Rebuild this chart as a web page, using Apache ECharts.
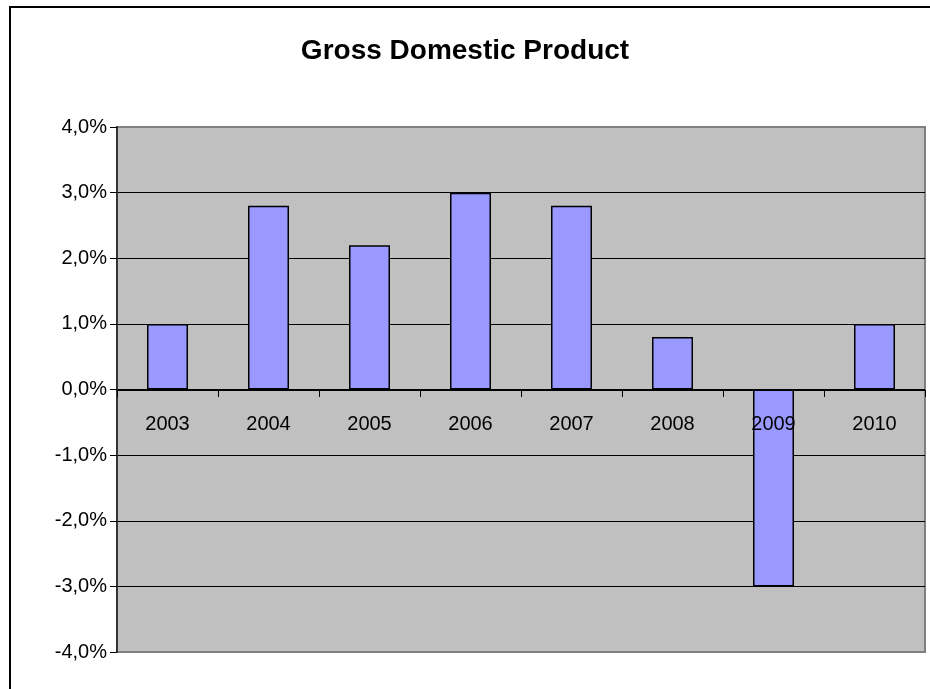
<!DOCTYPE html>
<html>
<head>
<meta charset="utf-8">
<script src="https://cdn.jsdelivr.net/npm/echarts@6/dist/echarts.min.js"></script>
<style>
html,body{margin:0;padding:0;background:#fff;overflow:hidden;}
#frame{position:absolute;left:9px;top:6px;width:1000px;height:800px;border:2px solid #000;box-sizing:border-box;}
#chart{position:absolute;left:0;top:0;width:930px;height:689px;}
</style>
</head>
<body>
<div id="frame"></div>
<div id="chart"></div>
<script>
const titleText = 'Gross Domestic Product';
const categories = ['2003','2004','2005','2006','2007','2008','2009','2010'];
const gdpValues = [1.0, 2.8, 2.2, 3.0, 2.8, 0.8, -3.0, 1.0];

const chart = echarts.init(document.getElementById('chart'), null, {renderer:'canvas'});
chart.setOption({
  backgroundColor: 'transparent',
  animation: false,
  title: {
    text: titleText,
    left: 'center',
    top: 32,
    textStyle: {fontFamily:'Liberation Sans, Arial', fontWeight:'bold', fontSize:28, color:'#000'}
  },
  grid: {
    left: 117, right: 5, top: 127, bottom: 37,
    show: true, backgroundColor: '#c0c0c0', borderColor: '#808080', borderWidth: 2
  },
  xAxis: {
    type: 'category',
    data: categories,
    position: 'bottom',
    offset: -262,
    z: 10,
    boundaryGap: true,
    axisLine: {show:true, onZero:false, lineStyle:{color:'#000', width:1}},
    axisTick: {show:true, alignWithLabel:false, length:7, inside:false, lineStyle:{color:'#000'}},
    axisLabel: {margin:24, fontFamily:'Liberation Sans, Arial', fontSize:20, color:'#000'},
    splitLine: {show:false}
  },
  yAxis: {
    type: 'value',
    min: -4, max: 4, interval: 1,
    axisLine: {show:true, lineStyle:{color:'#333', width:2}},
    axisTick: {show:true, length:7, lineStyle:{color:'#000'}},
    axisLabel: {
      margin: 10, fontFamily:'Liberation Sans, Arial', fontSize:20, color:'#000',
      formatter: v => v.toFixed(1).replace('.', ',') + '%'
    },
    splitLine: {show:true, lineStyle:{color:['#808080','#000','#000','#000','#000','#000','#000','#000','#808080'], width:1}}
  },
  series: [{
    type: 'bar',
    data: gdpValues,
    barWidth: 41,
    z: 3,
    itemStyle: {color:'#9999ff', borderColor:'#000', borderWidth:1.5}
  }]
});
</script>
</body>
</html>
